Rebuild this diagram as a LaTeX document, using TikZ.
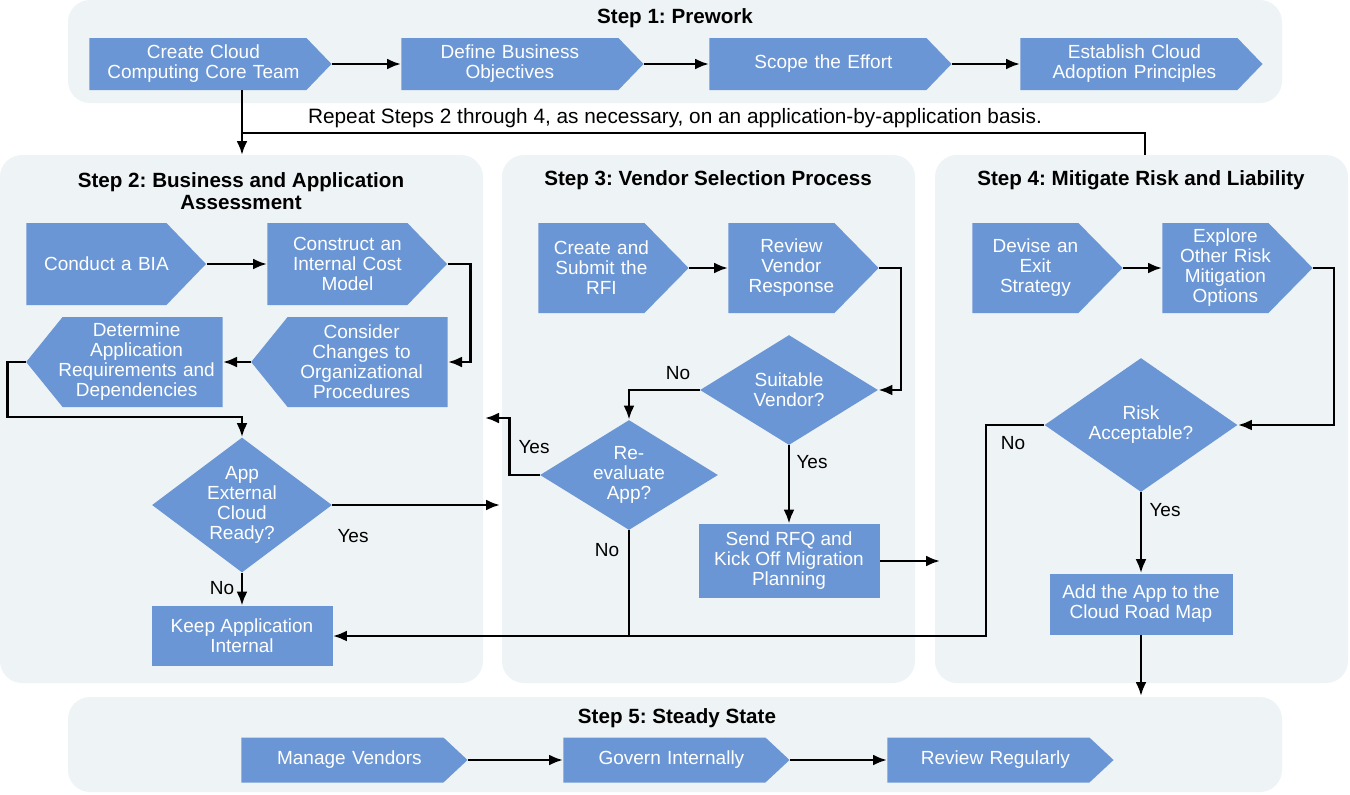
\documentclass[tikz,border=0pt]{standalone}
\usepackage{fontspec}
\setmainfont{Liberation Sans}
\frenchspacing
\usetikzlibrary{arrows,arrows.meta,shapes,positioning,calc}

\definecolor{boxblue}{RGB}{106,150,213}
\definecolor{panelgrey}{RGB}{238,243,245}

\tikzset{
  panel/.style={fill=panelgrey,rounded corners=11pt},
  txt/.style={font=\fontsize{9.5}{10}\selectfont,align=center,inner sep=0pt},
  titre/.style={txt,font=\fontsize{10.3}{11}\selectfont\bfseries},
  etape/.style={txt,shape=signal,signal to=east,fill=boxblue,text=white},
  etapeg/.style={etape,signal to=west},
  boite/.style={txt,rectangle,fill=boxblue,text=white},
  choix/.style={txt,shape=diamond,fill=boxblue,text=white},
  fl/.style={-{Latex[length=7pt,width=5.5pt]},line width=1.3pt},
  trait/.style={line width=1.3pt},
  % decalage du texte vers la pointe
  decal/.style={execute at begin node={\advance\rightskip by -#1}},
  decalg/.style={execute at begin node={\advance\leftskip by -#1}},
  % formes par etape
  un/.style={etape,text width=108.5pt,minimum height=26pt,signal pointer angle=92,anchor=west},
  deux/.style={etape,text width=70pt,minimum height=41pt,signal pointer angle=92,anchor=west,decal=10pt},
  deuxg/.style={etapeg,text width=80pt,minimum height=45pt,signal pointer angle=102,anchor=east,decalg=6pt},
  trois/.style={etape,text width=53pt,minimum height=45pt,signal pointer angle=91,anchor=west,decal=10pt},
  cinq/.style={etape,text width=101pt,minimum height=22.5pt,signal pointer angle=86,anchor=west,decal=7pt}
}

\begin{document}
\begin{tikzpicture}[x=0.5pt,y=-0.5pt]% 1 px = 0.5pt
\useasboundingbox (0,0) rectangle (1350,794);

% fonds des etapes
\fill[panel] (68,0) rectangle (1282,103);
\fill[panel] (0,155) rectangle (483,683);
\fill[panel] (502,155) rectangle (915,683);
\fill[panel] (935,155) rectangle (1348,683);
\fill[panel] (68,697) rectangle (1282,792);

% Step 1
\node[titre] (t1) at (675,18) {Step 1: Prework};
\node[un,decal=5.5pt] (core) at (89,64) {Create Cloud\\Computing Core Team};
\node[un] (objectives) at (401,64) {Define Business\\Objectives};
\node[un,decal=5.5pt] (scope) at (709,64) {Scope the Effort};
\node[un,decal=5.5pt] (principles) at (1020,64) {Establish Cloud\\Adoption Principles};
\draw[fl] (core.east) -- (objectives.west);
\draw[fl] (objectives.east) -- (scope.west);
\draw[fl] (scope.east) -- (principles.west);

% boucle
\node[txt,font=\fontsize{10.4}{11}\selectfont] (repeat) at (675,118) {Repeat Steps 2 through 4, as necessary, on an application-by-application basis.};
\coordinate (s2in) at (242,155);
\coordinate (s4out) at (1145,155);
\coordinate (loop) at (242,133);
\draw[trait] (s4out) |- (loop);

% Step 2
\node[titre] (t2) at (241,191) {Step 2: Business and Application\\Assessment};
\node[deux] (bia) at (26,264) {Conduct a BIA};
\node[deux] (cost) at (267,264) {Construct an\\Internal Cost\\Model};
\node[deuxg] (consider) at (448,362) {Consider\\Changes to\\Organizational\\Procedures};
\node[deuxg] (determine) at (223,362) {Determine\\Application\\Requirements and\\Dependencies};
\node[choix,minimum width=90pt,minimum height=67.5pt,aspect=1.33] (app) at (242,505) {App\\External\\Cloud\\Ready?};
\node[boite,minimum width=90.5pt,minimum height=30pt] (keep) at (242,636) {Keep Application\\Internal};
\draw[fl] (core.south -| app.north) -- (s2in);
\draw[fl] (bia.east) -- (cost.west);
\draw[fl] (cost.east) -- ++(23,0) |- (consider.east);
\draw[fl] (consider.west) -- (determine.east);
\draw[fl] (determine.west) -- ++(-18,0) -- ++(0,55) -| (app.north);
\coordinate (s3in) at (500,505);
\draw[fl] (app.east) -- (s3in);
\node[txt] (yes1) at (353,536) {Yes};
\draw[fl] (app.south) -- (keep.north);
\node[txt] (no1) at (222,588) {No};

% Step 3
\node[titre] (t3) at (708,180) {Step 3: Vendor Selection Process};
\node[trois] (rfi) at (538,268) {Create and\\Submit the\\RFI};
\node[trois] (review) at (728,268) {Review\\Vendor\\Response};
\node[choix,minimum width=89pt,minimum height=55pt,aspect=1.6] (suit) at (789,390) {Suitable\\Vendor?};
\node[choix,minimum width=89pt,minimum height=55pt,aspect=1.6] (reeval) at (629,475) {Re-\\evaluate\\App?};
\node[boite,minimum width=90.5pt,minimum height=37pt] (rfq) at (789,561) {Send RFQ and\\Kick Off Migration\\Planning};
\draw[fl] (rfi.east) -- (review.west);
\draw[fl] (review.east) -- ++(22,0) |- (suit.east);
\draw[fl] (suit.west) -| (reeval.north);
\node[txt] (no2) at (678,373) {No};
\draw[fl] (suit.south) -- (rfq.north);
\node[txt] (yes2) at (812,462) {Yes};
\coordinate (s2back) at (485,418);
\draw[fl] (reeval.west) -- ++(-30,0) |- (s2back);
\node[txt] (yes3) at (534,447) {Yes};
\draw[trait] (reeval.south) -- (reeval.south |- keep.east);
\node[txt] (no3) at (607,550) {No};
\coordinate (s4in) at (940,561);
\draw[fl] (rfq.east) -- (s4in);

% Step 4
\node[titre] (t4) at (1141,180) {Step 4: Mitigate Risk and Liability};
\node[trois] (exit) at (972,268) {Devise an\\Exit\\Strategy};
\node[trois] (explore) at (1162,268) {Explore\\Other Risk\\Mitigation\\Options};
\node[choix,minimum width=96.5pt,minimum height=67pt,aspect=1.44] (risk) at (1141,425) {Risk\\Acceptable?};
\node[boite,minimum width=91.5pt,minimum height=30.5pt] (add) at (1141,604) {Add the App to the\\Cloud Road Map};
\draw[fl] (exit.east) -- (explore.west);
\draw[fl] (explore.east) -- ++(21,0) |- (risk.east);
\draw[fl] (risk.south) -- (add.north);
\node[txt] (yes4) at (1165,510) {Yes};
\draw[fl] (risk.west) -- ++(-58,0) |- (keep.east);
\node[txt] (no4) at (1013,443) {No};
\coordinate (s5in) at (1141,696);
\draw[fl] (add.south) -- (s5in);

% Step 5
\node[titre] (t5) at (677,718) {Step 5: Steady State};
\node[cinq] (vendors) at (241,760) {Manage Vendors};
\node[cinq] (govern) at (563,760) {Govern Internally};
\node[cinq] (regular) at (887,760) {Review Regularly};
\draw[fl] (vendors.east) -- (govern.west);
\draw[fl] (govern.east) -- (regular.west);

\end{tikzpicture}
\end{document}
